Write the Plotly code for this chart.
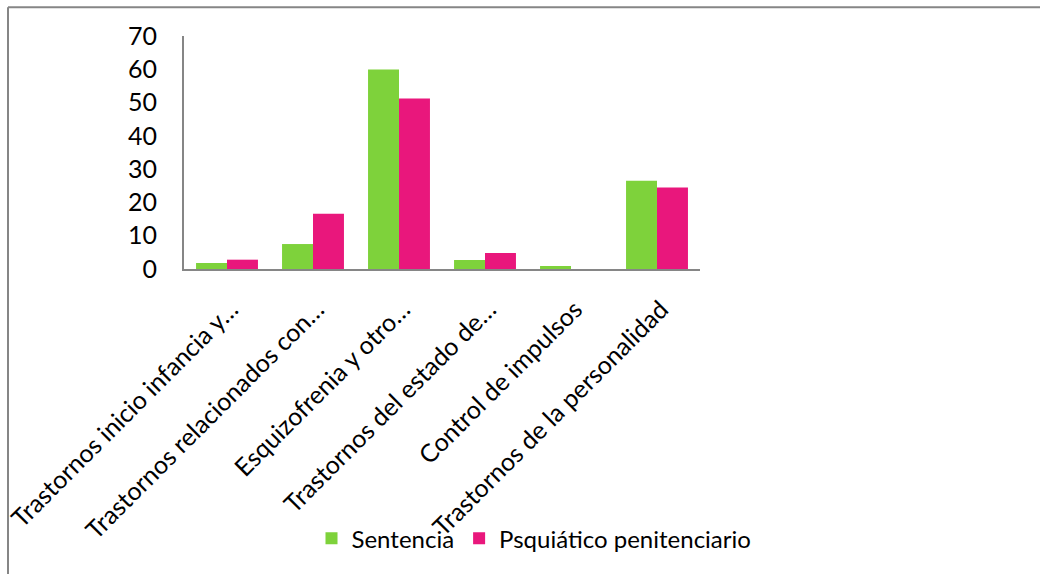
import plotly.graph_objects as go

# Diagnostic categories (long names shortened with an ellipsis)
categories = [
    "Trastornos inicio infancia y…",
    "Trastornos relacionados con…",
    "Esquizofrenia y otro…",
    "Trastornos del estado de…",
    "Control de impulsos",
    "Trastornos de la personalidad",
]

# Percentage of cases per group
sentencia = [1.8, 7.5, 59.9, 2.7, 0.9, 26.5]
psiquiatrico = [2.8, 16.6, 51.2, 4.8, 0.0, 24.5]

series_names = ["Sentencia", "Psquiático penitenciario"]
y_ticks = [0, 10, 20, 30, 40, 50, 60, 70]

GREEN = "#7ED23B"
PINK = "#E9177C"
AXIS_GRAY = "#868686"
FONT = "Lato"
FSIZE = 25

W, H = 1040, 574
ML, MR, MT, MB = 184, 340, 36, 302

fig = go.Figure()
fig.add_trace(go.Bar(
    x=categories, y=sentencia, name=series_names[0],
    marker=dict(color=GREEN, line=dict(width=0)),
))
fig.add_trace(go.Bar(
    x=categories, y=psiquiatrico, name=series_names[1],
    marker=dict(color=PINK, line=dict(width=0)),
))

# Outer frame (top and left edges visible inside the page)
pw = W - ML - MR
ph = H - MT - MB
def px_x(px):
    return (px - ML) / pw
def px_y(py):
    return (H - MB - py) / ph

frame = dict(color=AXIS_GRAY, width=2)
fig.add_shape(type="line", xref="paper", yref="paper",
              x0=px_x(8), x1=px_x(1100), y0=px_y(7), y1=px_y(7), line=frame)
fig.add_shape(type="line", xref="paper", yref="paper",
              x0=px_x(8), x1=px_x(8), y0=px_y(7), y1=px_y(700), line=frame)

fig.update_layout(
    width=W, height=H,
    margin=dict(l=ML, r=MR, t=MT, b=MB),
    paper_bgcolor="white", plot_bgcolor="white",
    barmode="group", bargap=0.28, bargroupgap=0,
    font=dict(family=FONT, size=FSIZE, color="#000000"),
    showlegend=True,
    legend=dict(
        orientation="h", xanchor="center", yanchor="middle",
        x=px_x(534), y=px_y(545),
        font=dict(family=FONT, size=24, color="#000000"),
        itemwidth=30, tracegroupgap=0, bgcolor="rgba(0,0,0,0)",
    ),
)

fig.update_xaxes(
    showline=True, linecolor=AXIS_GRAY, linewidth=2,
    ticks="", tickangle=-45, showgrid=False,
    ticklabelstandoff=14, ticklabelshift=4,
    tickfont=dict(family=FONT, size=FSIZE, color="#000000"),
    automargin=False,
)
fig.update_yaxes(
    range=[0, 70], tickvals=y_ticks,
    showline=True, linecolor=AXIS_GRAY, linewidth=2,
    ticks="", showgrid=False, zeroline=False,
    ticklabelstandoff=20,
    tickfont=dict(family=FONT, size=FSIZE, color="#000000"),
    automargin=False,
)

fig.write_html("out.html")
